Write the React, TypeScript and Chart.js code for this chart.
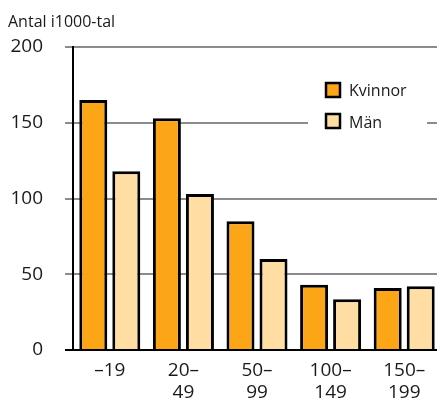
import React, { useEffect, useRef } from "react";
import { Chart, registerables } from "chart.js";

Chart.register(...registerables);

const categories: (string | string[])[] = ["–19", ["20–", "49"], ["50–", "99"], ["100–", "149"], ["150–", "199"]];
const kvinnor = [165, 153, 85, 43, 41];
const man = [118, 103, 60, 33.5, 42];
const seriesLabels = ["Kvinnor", "Män"];
const seriesColors = ["#FCA517", "#FFDDA3"];
const yMin = 0;
const yMax = 200;
const yStep = 50;
const yTitle = "Antal i1000-tal";

const FONT = "'Open Sans', 'Liberation Sans', sans-serif";
const TEXT = "#1a1a1a";

export default function App() {
  const ref = useRef<HTMLCanvasElement | null>(null);

  useEffect(() => {
    if (!ref.current) return;

    const overlay = {
      id: "overlay",
      afterDraw(chart: any) {
        const ctx = chart.ctx;
        ctx.save();
        // title
        ctx.fillStyle = TEXT;
        ctx.font = `16px ${FONT}`;
        ctx.textBaseline = "alphabetic";
        ctx.textAlign = "left";
        ctx.fillText(yTitle, 8, 27);
        // legend
        ctx.fillStyle = "#fff";
        ctx.fillRect(308, 72, 119, 64);
        const boxY = [83, 114];
        const textY = [96, 128];
        chart.data.datasets.forEach((ds: any, i: number) => {
          ctx.fillStyle = ds.backgroundColor;
          ctx.fillRect(326, boxY[i], 14, 14);
          ctx.strokeStyle = "#000";
          ctx.lineWidth = 2.5;
          ctx.strokeRect(326, boxY[i], 14, 14);
          ctx.fillStyle = TEXT;
          ctx.font = `16px ${FONT}`;
          ctx.fillText(ds.label, 349, textY[i]);
        });
        ctx.restore();
      },
    };

    const chart = new Chart(ref.current, {
      type: "bar",
      data: {
        labels: categories,
        datasets: [
          {
            label: seriesLabels[0],
            data: kvinnor,
            backgroundColor: seriesColors[0],
            borderColor: "#000",
            borderWidth: 3,
            barPercentage: 0.848,
            categoryPercentage: 0.897,
          },
          {
            label: seriesLabels[1],
            data: man,
            backgroundColor: seriesColors[1],
            borderColor: "#000",
            borderWidth: 3,
            barPercentage: 0.848,
            categoryPercentage: 0.897,
          },
        ],
      },
      options: {
        responsive: false,
        animation: false,
        devicePixelRatio: 1,
        layout: { padding: { top: 47, left: 0, right: 0, bottom: 0 } },
        plugins: {
          legend: { display: false },
          tooltip: { enabled: false },
          title: { display: false },
        },
        scales: {
          x: {
            offset: true,
            grid: { display: false, drawTicks: false },
            border: { display: true, color: "#000", width: 2 },
            ticks: {
              padding: 10,
              color: TEXT,
              maxRotation: 0,
              autoSkip: false,
              font: { family: FONT, size: 19, lineHeight: 22 / 19 },
            },
            afterFit: (s: any) => {
              s.height = 53;
            },
          },
          y: {
            min: yMin,
            max: yMax,
            ticks: {
              stepSize: yStep,
              padding: 22,
              color: TEXT,
              font: { family: FONT, size: 19 },
            },
            grid: {
              color: (c: any) => (c.tick && c.tick.value === 0 ? "#000" : "#8c8c8c"),
              lineWidth: 2,
              tickLength: 8,
              drawTicks: true,
            },
            border: { display: true, color: "#000", width: 2 },
            afterFit: (s: any) => {
              s.width = 73;
            },
          },
        },
      },
      plugins: [overlay],
    } as any);

    return () => chart.destroy();
  }, []);

  return (
    <div
      style={{
        position: "fixed",
        left: 0,
        top: 0,
        width: 437,
        height: 403,
        overflow: "hidden",
        background: "#fff",
      }}
    >
      <canvas ref={ref} width={441} height={403} style={{ display: "block", width: 441, height: 403 }} />
    </div>
  );
}
